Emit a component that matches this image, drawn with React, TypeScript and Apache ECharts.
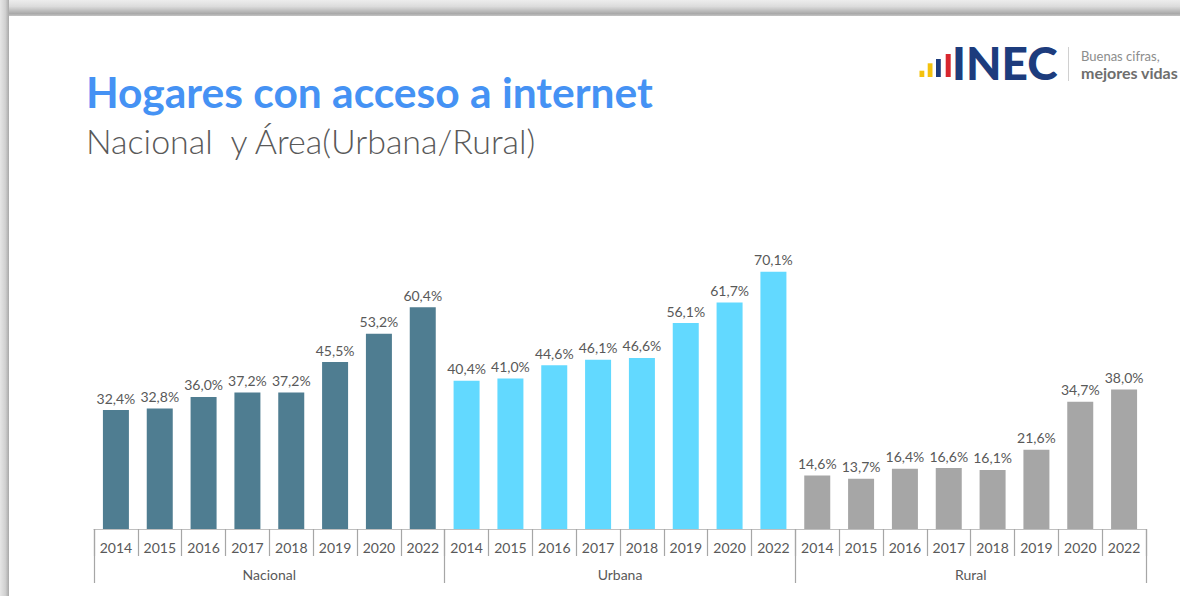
import React, { useEffect, useRef } from "react";
import * as echarts from "echarts";

const years = ["2014", "2015", "2016", "2017", "2018", "2019", "2020", "2022"];
const groups = ["Nacional", "Urbana", "Rural"];
const nacional = [32.4, 32.8, 36.0, 37.2, 37.2, 45.5, 53.2, 60.4];
const urbana = [40.4, 41.0, 44.6, 46.1, 46.6, 56.1, 61.7, 70.1];
const rural = [14.6, 13.7, 16.4, 16.6, 16.1, 21.6, 34.7, 38.0];
const groupColors = ["#4F7D91", "#62D9FF", "#A6A6A6"];

const FONT = "Lato, 'Noto Sans', sans-serif";

export default function App() {
  const ref = useRef<HTMLDivElement>(null);
  useEffect(() => {
    if (!ref.current) return;
    const chart = echarts.init(ref.current, null, { renderer: "svg" });
    const categories: string[] = [];
    groups.forEach((g) => years.forEach((y) => categories.push(g + "-" + y)));
    const seriesValues = [nacional, urbana, rural];
    const fmt = (v: number) => v.toFixed(1).replace(".", ",") + "%";

    const series = seriesValues.map((vals, gi) => ({
      type: "bar",
      name: groups[gi],
      xAxisIndex: 0,
      yAxisIndex: 0,
      barWidth: 26,
      barGap: "-100%",
      itemStyle: { color: groupColors[gi] },
      label: {
        show: true,
        position: "top",
        distance: 5,
        fontFamily: FONT,
        fontSize: 14,
        color: "#595959",
        formatter: (p: any) => fmt(p.value[1]),
      },
      data: vals.map((v, i) => [gi * years.length + i, v]),
    }));

    chart.setOption({
      animation: false,
      backgroundColor: "#ffffff",
      grid: { left: 94, right: 34, top: 162, bottom: 67, containLabel: false },
      xAxis: [
        {
          type: "category",
          data: categories,
          boundaryGap: true,
          axisLine: { show: true, lineStyle: { color: "#BFBFBF", width: 1 } },
          axisTick: { show: true, interval: 0, length: 27, lineStyle: { color: "#A6A6A6", width: 1.2 } },
          axisLabel: {
            interval: 0,
            margin: 11,
            fontFamily: FONT,
            fontSize: 14,
            color: "#595959",
            formatter: (v: string) => v.split("-")[1],
          },
        },
        {
          type: "category",
          data: groups,
          position: "bottom",
          boundaryGap: true,
          axisLine: { show: false },
          axisTick: { show: true, interval: 0, length: 54, lineStyle: { color: "#A6A6A6", width: 1.2 } },
          axisLabel: { interval: 0, margin: 38, fontFamily: FONT, fontSize: 14, color: "#595959" },
        },
      ],
      yAxis: { type: "value", min: 0, max: 100, show: false, splitLine: { show: false } },
      series,
      graphic: [
        {
          type: "rect",
          shape: { x: 0, y: 0, width: 1180, height: 16 },
          silent: true,
          style: {
            fill: new echarts.graphic.LinearGradient(0, 0, 0, 1, [
              { offset: 0, color: "#EDEDED" },
              { offset: 0.4, color: "#DCDCDC" },
              { offset: 0.85, color: "#A9A9A9" },
              { offset: 1, color: "#C4C4C4" },
            ]),
          },
        },
        {
          type: "rect",
          shape: { x: 0, y: 0, width: 9, height: 596 },
          silent: true,
          style: {
            fill: new echarts.graphic.LinearGradient(0, 0, 1, 0, [
              { offset: 0, color: "#E6E6E6" },
              { offset: 0.6, color: "#D0D0D0" },
              { offset: 1, color: "#A8A8A8" },
            ]),
          },
        },
        {
          type: "text",
          x: 86,
          y: 91,
          style: {
            text: "Hogares con acceso a internet",
            fontFamily: FONT,
            fontWeight: "bold",
            fontSize: 42.5,
            fill: "#4592F4",
            align: "left",
            verticalAlign: "middle",
          },
        },
        {
          type: "text",
          x: 86,
          y: 140,
          style: {
            text: "Nacional  y Área(Urbana/Rural)",
            fontFamily: FONT,
            fontWeight: 300,
            fontSize: 34,
            fill: "#595959",
            align: "left",
            verticalAlign: "middle",
          },
        },
        { type: "rect", shape: { x: 919.5, y: 70.7, width: 4.8, height: 6.3 }, style: { fill: "#F4C20D" } },
        { type: "rect", shape: { x: 927.7, y: 63.3, width: 4.8, height: 13.7 }, style: { fill: "#F4C20D" } },
        { type: "rect", shape: { x: 936, y: 59, width: 4.8, height: 18 }, style: { fill: "#1D3C7D" } },
        { type: "rect", shape: { x: 945.7, y: 54, width: 5, height: 23 }, style: { fill: "#D8262E" } },
        {
          type: "text",
          x: 952,
          y: 62,
          style: {
            text: "INEC",
            fontFamily: FONT,
            fontWeight: 900,
            fontSize: 46,
            fill: "#1D3C7D",
            align: "left",
            verticalAlign: "middle",
          },
        },
        { type: "line", shape: { x1: 1068.5, y1: 47, x2: 1068.5, y2: 81 }, style: { stroke: "#D0D0D0", lineWidth: 1 } },
        {
          type: "text",
          x: 1081,
          y: 56,
          style: { text: "Buenas cifras,", fontFamily: FONT, fontSize: 13, fill: "#8C8C8C", align: "left", verticalAlign: "middle" },
        },
        {
          type: "text",
          x: 1081,
          y: 72,
          style: {
            text: "mejores vidas",
            fontFamily: FONT,
            fontWeight: "bold",
            fontSize: 16,
            fill: "#6E6E6E",
            align: "left",
            verticalAlign: "middle",
          },
        },
      ],
    });
    return () => chart.dispose();
  }, []);
  return (
    <div
      ref={ref}
      style={{ position: "absolute", left: 0, top: 0, width: 1180, height: 596, background: "#fff" }}
    />
  );
}
